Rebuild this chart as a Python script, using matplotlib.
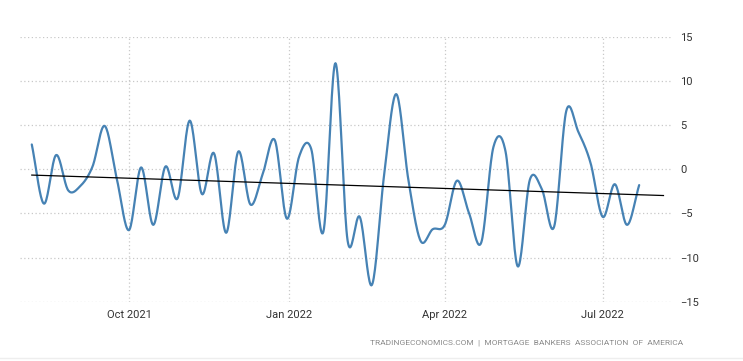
import numpy as np
import pandas as pd
import matplotlib
matplotlib.use("Agg")
from matplotlib import pyplot as plt
import matplotlib.dates as mdates

plt.rcParams['font.family'] = ['Roboto', 'DejaVu Sans']

# weekly change in MBA mortgage applications (%), weeks ending Friday
start_week = "2021-08-06"
values = [2.8, -3.9, 1.6, -2.4, -1.9, 0.3, 4.9, -1.1, -6.9, 0.2,
          -6.3, 0.3, -3.3, 5.5, -2.8, 1.8, -7.2, 2.0, -4.0, -0.6,
          3.3, -5.6, 1.4, 2.3, -7.1, 12.0, -8.1, -5.4, -13.1, -0.7,
          8.5, -1.2, -8.1, -6.8, -6.3, -1.3, -5.0, -8.3, 2.5, 2.0,
          -11.0, -1.2, -2.3, -6.5, 6.6, 4.2, 0.7, -5.4, -1.7, -6.3, -1.8]
tick_dates = ["2021-10-01", "2022-01-01", "2022-04-01", "2022-07-01"]
tick_labels = ["Oct 2021", "Jan 2022", "Apr 2022", "Jul 2022"]
yticks = [-15, -10, -5, 0, 5, 10, 15]
source = "TRADINGECONOMICS.COM  |  MORTGAGE  BANKERS  ASSOCIATION  OF  AMERICA"
trend_extra_weeks = 2

dates = pd.date_range(start_week, periods=len(values), freq="7D")
xnum = mdates.date2num(dates)
y = np.array(values)


def catmull_rom(x, y, steps=20):
    # smooth curve through every point (same look as the web chart's spline)
    px = np.concatenate([[2 * x[0] - x[1]], x, [2 * x[-1] - x[-2]]])
    py = np.concatenate([[2 * y[0] - y[1]], y, [2 * y[-1] - y[-2]]])
    xs, ys = [], []
    t = np.linspace(0, 1, steps, endpoint=False)
    for i in range(1, len(px) - 2):
        m0 = (py[i + 1] - py[i - 1]) / 2
        m1 = (py[i + 2] - py[i]) / 2
        h00 = 2 * t**3 - 3 * t**2 + 1
        h10 = t**3 - 2 * t**2 + t
        h01 = -2 * t**3 + 3 * t**2
        h11 = t**3 - t**2
        ys.append(h00 * py[i] + h10 * m0 + h01 * py[i + 1] + h11 * m1)
        xs.append(px[i] + t * (px[i + 1] - px[i]))
    xs.append([x[-1]])
    ys.append([y[-1]])
    return np.concatenate(xs), np.concatenate(ys)


sx, sy = catmull_rom(xnum, y)

# linear trend
idx = np.arange(len(values))
slope, icpt = np.polyfit(idx, y, 1)
tidx = np.array([0, len(values) - 1 + trend_extra_weeks])
tx = xnum[0] + tidx * 7
ty = icpt + slope * tidx

fig = plt.figure(figsize=(7.43, 3.61), dpi=100)
ax = fig.add_axes([0.0269, 0.1643, 0.8789, 0.734])

ax.plot(sx, sy, color="#4682b4", lw=1.6, solid_capstyle="round", zorder=3)
ax.plot(tx, ty, color="black", lw=0.9, zorder=4)

left = mdates.date2num(pd.Timestamp("2021-10-01")) - 62.8
right = mdates.date2num(pd.Timestamp("2021-10-01")) + 313.5
ax.set_xlim(left, right)
ax.set_ylim(-15, 15)

ax.set_xticks(mdates.date2num(pd.to_datetime(tick_dates)))
ax.set_xticklabels(tick_labels)
ax.set_yticks(yticks)
ax.yaxis.tick_right()
ax.tick_params(axis="both", length=0, labelsize=8, colors="#333333")
ax.tick_params(axis="y", pad=5)
ax.tick_params(axis="x", pad=6)
for lab in ax.get_yticklabels():
    lab.set_horizontalalignment("left")

ax.grid(True, color="#c8c8c8", linestyle=(0, (1, 2)), lw=0.9)
ax.set_axisbelow(True)
for s in ax.spines.values():
    s.set_visible(False)

fig.text(0.919, 0.05, source, ha="right", va="center", fontsize=6,
         color="#8a8a8a")
fig.add_artist(plt.Line2D([0, 1], [0.008, 0.008], color="#eeeeee", lw=1))

fig.savefig("out.png", dpi=100)
